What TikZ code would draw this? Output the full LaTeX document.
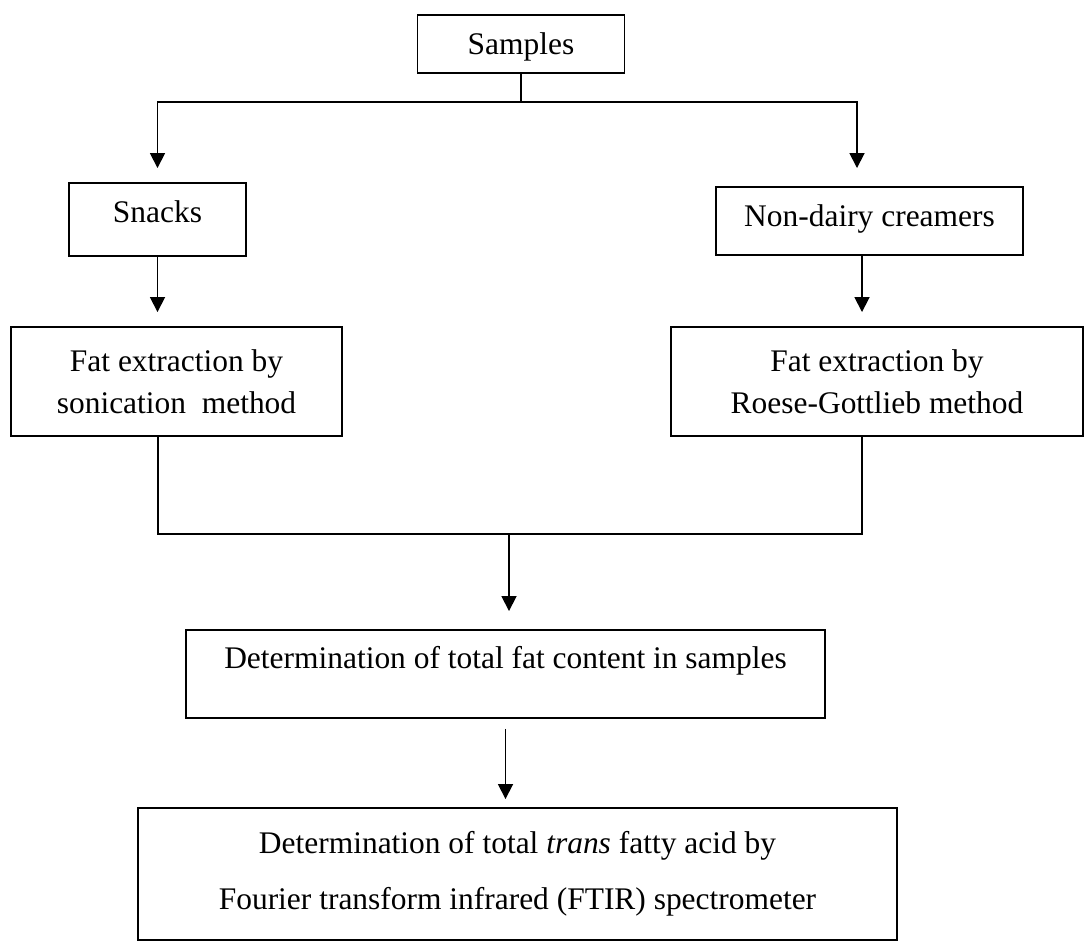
\documentclass[tikz,border=0pt]{standalone}
\usepackage{fontspec}
\setmainfont{Liberation Serif}
\usetikzlibrary{arrows.meta}

\begin{document}
\begin{tikzpicture}[x=0.02cm, y=-0.02cm,
    %Option for arrows
    >={Triangle[length=0.3cm,width=0.3cm]},
    box/.style={draw, line width=1.1pt, inner sep=0pt, align=center,
        font=\fontsize{17.9}{24}\selectfont},
    link/.style={line width=1pt},
    flow/.style={line width=1pt, ->, shorten >=#1},
    flow/.default=0.28cm,
]
    \useasboundingbox (0,0) rectangle (1085,952);

    % Boxes
    \node[box, minimum width=4.14cm, text height=0.8cm, text depth=0.36cm] (samples) at (521,44) {Samples};
    \node[box, minimum width=3.54cm, text height=0.8cm, text depth=0.66cm] (snacks) at (157.5,219.5) {Snacks};
    \node[box, minimum width=6.14cm, text height=0.8cm, text depth=0.56cm] (cream) at (869.5,221) {Non-dairy creamers};
    \node[box, minimum width=6.62cm, minimum height=2.18cm] (fatL) at (176.5,381.5)
        {Fat extraction by\\sonication\ \ method};
    \node[box, minimum width=8.24cm, minimum height=2.18cm] (fatR) at (877,381.5)
        {Fat extraction by\\Roese-Gottlieb method};
    \node[box, minimum width=12.78cm, text height=0.76cm, text depth=1.0cm] (det) at (505.5,674)
        {Determination of total fat content in samples};
    \node[box, minimum width=15.18cm, minimum height=2.64cm, font=\fontsize{17.9}{32}\selectfont] (trans) at (517.5,874)
        {Determination of total \textit{trans} fatty acid by\\Fourier transform infrared (FTIR) spectrometer};

    % Branching
    \coordinate (split) at (521,102);
    \draw[link] (samples.south) -- (split);
    \draw[flow] (split) -| (snacks.north);
    \draw[flow=0.36cm] (split) -| ([xshift=-0.25cm]cream.north);
    \draw[flow] (snacks.south) -- (snacks.south |- fatL.north);
    \draw[flow] ([xshift=-0.15cm]cream.south) -- ([xshift=-0.15cm]cream.south |- fatR.north);

    % Joining
    \coordinate (join) at (509,534);
    \draw[link] ([xshift=-0.37cm]fatL.south) |- (join) -| ([xshift=-0.3cm]fatR.south);
    \draw[flow=0.36cm] (join) -- (join |- det.north);
    \draw[flow=0.16cm, shorten <=0.2cm] (det.south) -- (det.south |- trans.north);
\end{tikzpicture}
\end{document}
